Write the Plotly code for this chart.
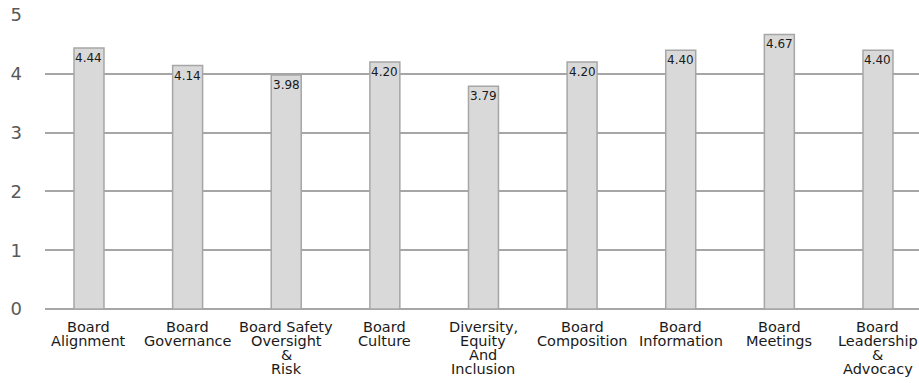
import plotly.graph_objects as go

categories = ["Board<br>Alignment", "Board<br>Governance", "Board Safety<br>Oversight<br>&<br>Risk",
              "Board<br>Culture", "Diversity,<br>Equity<br>And<br>Inclusion", "Board<br>Composition",
              "Board<br>Information", "Board<br>Meetings", "Board<br>Leadership<br>&<br>Advocacy"]
values = [4.44, 4.14, 3.98, 4.20, 3.79, 4.20, 4.40, 4.67, 4.40]
value_labels = ["4.44", "4.14", "3.98", "4.20", "3.79", "4.20", "4.40", "4.67", "4.40"]
y_ticks = [0, 1, 2, 3, 4, 5]

FONT = "DejaVu Sans"
idx = list(range(len(categories)))

fig = go.Figure()
fig.add_trace(go.Bar(
    x=idx, y=values, width=0.304,
    marker=dict(color="#d9d9d9", line=dict(color="#a6a6a6", width=1.5)),
    hoverinfo="skip",
))

annotations = []
for i, (v, t) in enumerate(zip(values, value_labels)):
    annotations.append(dict(x=i, y=v, xref="x", yref="y", text=t, showarrow=False,
                            yanchor="top", yshift=-1,
                            font=dict(family=FONT, size=12, color="#1a1a1a")))
for i, lab in enumerate(categories):
    for j, line in enumerate(lab.split("<br>")):
        annotations.append(dict(x=i, y=0, xref="x", yref="y", text=line, showarrow=False,
                                yanchor="middle", yshift=-18 - 14 * j,
                                font=dict(family=FONT, size=14.5, color="#1a1a1a")))

fig.update_layout(
    width=919, height=383,
    margin=dict(l=45, r=0, t=15, b=74),
    paper_bgcolor="white", plot_bgcolor="white",
    showlegend=False,
    annotations=annotations,
    xaxis=dict(range=[-0.446, 8.416], showticklabels=False, showgrid=False,
               zeroline=False, showline=False, ticks=""),
    yaxis=dict(range=[0, 5], tickvals=y_ticks, showgrid=True, gridcolor="#a6a6a6", gridwidth=1.5,
               zeroline=True, zerolinecolor="#a6a6a6", zerolinewidth=1.5,
               tickfont=dict(family=FONT, size=18, color="#595959"),
               ticklabelstandoff=22, ticks=""),
)

fig.write_html("out.html")
